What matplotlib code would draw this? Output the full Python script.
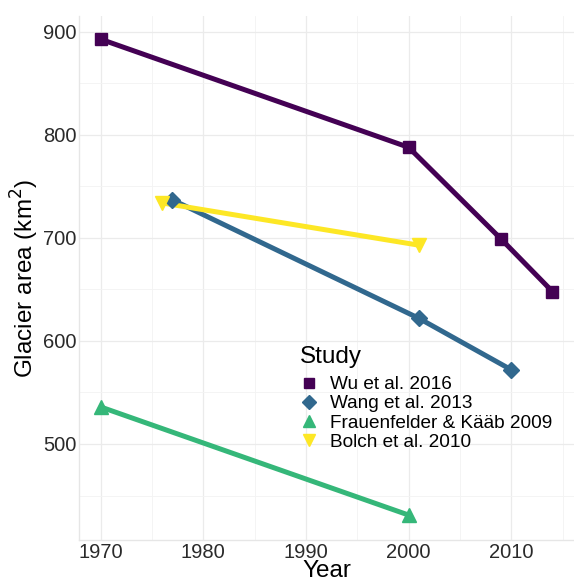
import numpy as np
import matplotlib
matplotlib.use("Agg")
from matplotlib import pyplot as plt
from matplotlib.ticker import MultipleLocator

plt.rcParams['font.family'] = ['Liberation Sans', 'DejaVu Sans']

# data
studies = ['Wu et al. 2016', 'Wang et al. 2013', 'Frauenfelder & Kääb 2009', 'Bolch et al. 2010']
wu_year = [1970, 2000, 2009, 2014]
wu_area = [893, 788, 699, 648]
wang_year = [1977, 2001, 2010]
wang_area = [737, 622, 572]
frau_year = [1970, 2000]
frau_area = [536, 431]
bolch_year = [1976, 2001]
bolch_area = [734, 693]

colors = ['#440154', '#31688E', '#35B779', '#FDE725']
markers = ['s', 'D', '^', 'v']
msizes = [8, 8, 10, 10]

fig = plt.figure(figsize=(5.74, 5.79), dpi=100)
ax = fig.add_axes([79/574, 1-540/579, (574-79)/574, (540-16)/579])

series = [(wu_year, wu_area), (wang_year, wang_area), (frau_year, frau_area), (bolch_year, bolch_area)]
for i, (yr, ar) in enumerate(series):
    ax.plot(yr, ar, color=colors[i], lw=3.6, solid_capstyle='butt', zorder=3)
    ax.plot(yr, ar, ls='none', marker=markers[i], ms=msizes[i], color=colors[i], zorder=4)

ax.set_xlim(1967.9, 2016.1)
ax.set_ylim(406.8, 915.5)
ax.xaxis.set_major_locator(MultipleLocator(10))
ax.xaxis.set_minor_locator(MultipleLocator(5))
ax.yaxis.set_major_locator(MultipleLocator(100))
ax.yaxis.set_minor_locator(MultipleLocator(50))
ax.grid(which='major', color='#ebebeb', lw=0.9)
ax.grid(which='minor', color='#f3f3f3', lw=0.6)
ax.set_axisbelow(True)
for s in ax.spines.values():
    s.set_color('#e6e6e6')
    s.set_linewidth(1.0)
ax.spines['right'].set_visible(False)
ax.spines['top'].set_visible(False)
ax.tick_params(which='both', length=0, labelsize=14.5, labelcolor='#2a2a2a', pad=2)

ax.set_xlabel('Year', fontsize=17.5, labelpad=-1)
ax.set_ylabel('Glacier area (km$^2$)', fontsize=17.5, labelpad=1)

handles = [plt.Line2D([], [], ls='none', marker=markers[i], ms=msizes[i] - 1, color=colors[i]) for i in range(4)]
leg = ax.legend(handles, studies, title='Study', loc='upper left', bbox_to_anchor=((292-79)/495, 1 - (338-16)/524),
                bbox_transform=ax.transAxes, frameon=False, fontsize=13.7, title_fontsize=17.5,
                handlelength=1.0, handletextpad=0.62, labelspacing=0.1, borderaxespad=0)
leg._legend_box.align = 'left'
leg._legend_box.sep = 6

fig.savefig('out.png', dpi=100)
